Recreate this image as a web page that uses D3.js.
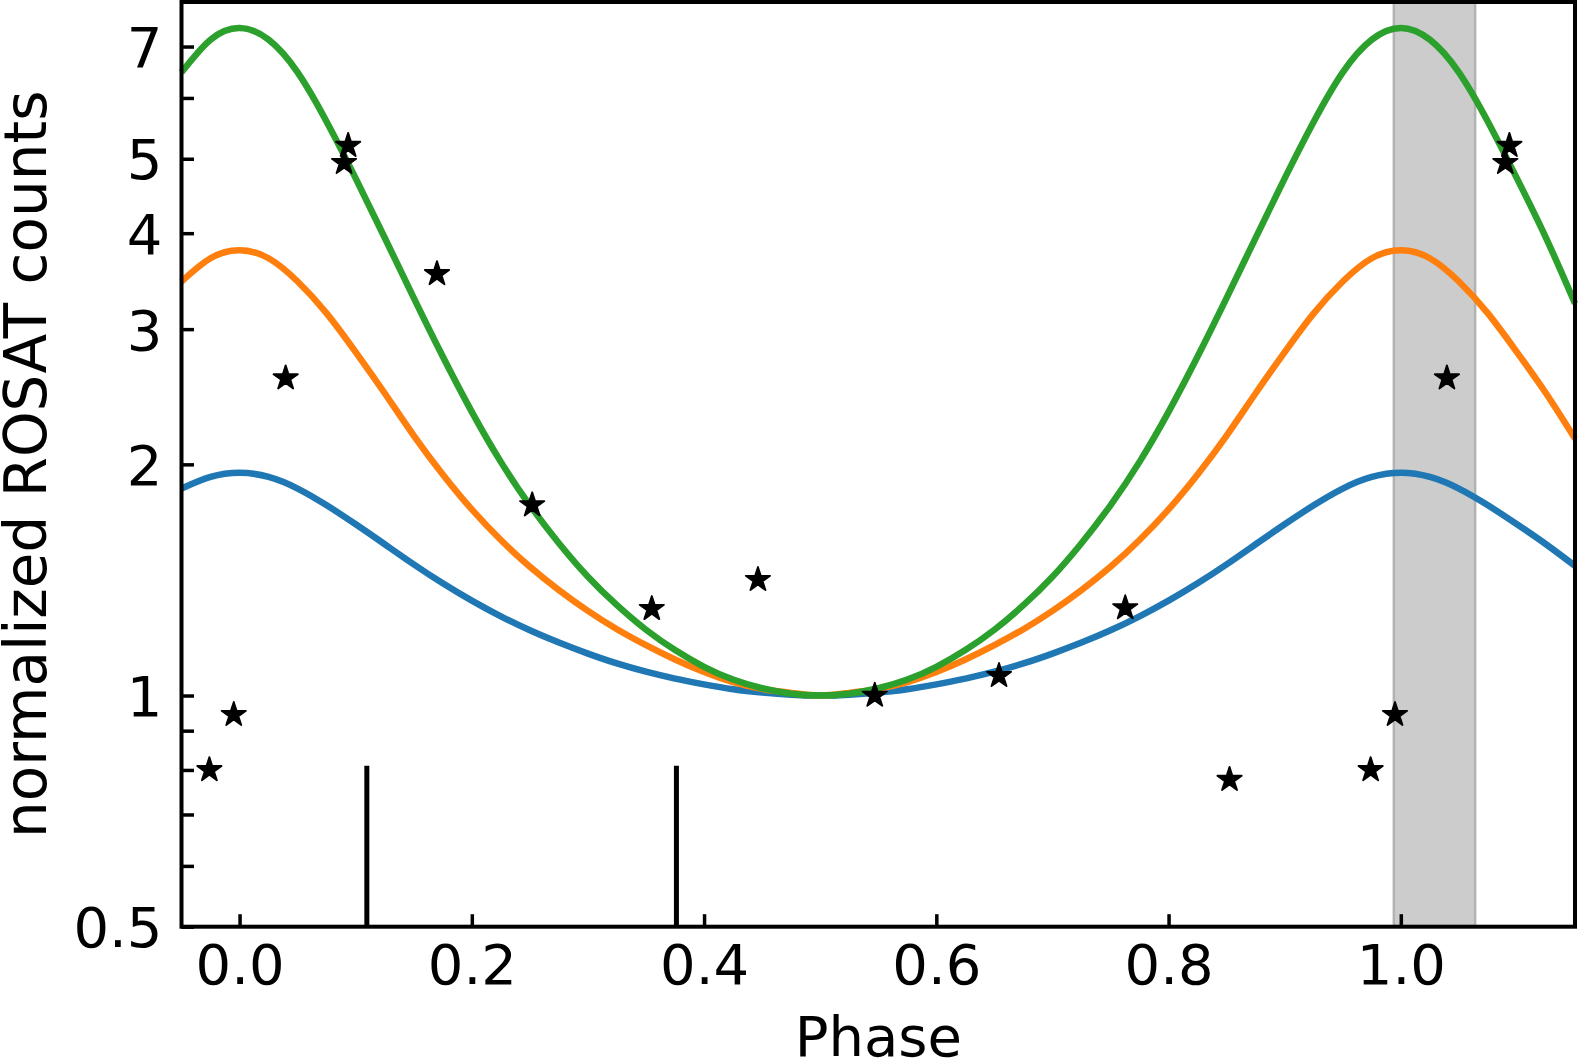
<!DOCTYPE html>
<html>
<head>
<meta charset="utf-8">
<script src="https://cdn.jsdelivr.net/npm/d3@7"></script>
<style>
  html, body { margin: 0; padding: 0; background: #fff; }
  svg { display: block; font-family: "DejaVu Sans", sans-serif; }
</style>
</head>
<body>
<svg id="chart" width="1578" height="1060"></svg>
<script>
// model curves, every 0.025 in phase
const phaseGrid = [-0.05, -0.025, 0, 0.025, 0.05, 0.075, 0.1, 0.125, 0.15, 0.175, 0.2, 0.225,
    0.25, 0.275, 0.3, 0.325, 0.35, 0.375, 0.4, 0.425, 0.45, 0.475, 0.5, 0.525, 0.55, 0.575,
    0.6, 0.625, 0.65, 0.675, 0.7, 0.725, 0.75, 0.775, 0.8, 0.825, 0.85, 0.875, 0.9, 0.925,
    0.95, 0.975, 1, 1.025, 1.05, 1.075, 1.1, 1.125, 1.15]
const blueModel = [1.86, 1.926, 1.95, 1.926, 1.86, 1.769, 1.671, 1.574, 1.482, 1.40, 1.329, 1.268,
    1.216, 1.172, 1.134, 1.101, 1.074, 1.052, 1.034, 1.019, 1.009, 1.0025, 1.0, 1.0025, 1.009, 1.019,
    1.034, 1.052, 1.074, 1.101, 1.134, 1.172, 1.216, 1.268, 1.329, 1.40, 1.482, 1.574, 1.671, 1.769,
    1.86, 1.926, 1.95, 1.926, 1.86, 1.769, 1.671, 1.574, 1.475]
const orangeModel = [3.46, 3.71, 3.80, 3.71, 3.46, 3.145, 2.80, 2.475, 2.18, 1.94, 1.747, 1.594,
    1.471, 1.372, 1.289, 1.220, 1.163, 1.114, 1.073, 1.041, 1.020, 1.008, 1.0, 1.008, 1.020, 1.041,
    1.073, 1.114, 1.163, 1.220, 1.289, 1.372, 1.471, 1.594, 1.747, 1.94, 2.18, 2.475, 2.80, 3.145,
    3.46, 3.71, 3.80, 3.71, 3.46, 3.145, 2.80, 2.475, 2.16]
const greenModel = [6.479, 7.146, 7.40, 7.146, 6.479, 5.587, 4.714, 3.945, 3.295, 2.763, 2.341, 2.015,
    1.769, 1.579, 1.428, 1.311, 1.218, 1.146, 1.090, 1.049, 1.022, 1.0055, 1.0, 1.0055, 1.022, 1.049,
    1.090, 1.146, 1.218, 1.311, 1.428, 1.579, 1.769, 2.015, 2.341, 2.763, 3.295, 3.945, 4.714, 5.587,
    6.479, 7.146, 7.40, 7.146, 6.479, 5.587, 4.714, 3.945, 3.24]

// ROSAT points (phase in 0..1), repeated one cycle either side where visible
const obsPhase = [0.0397, 0.090, 0.0935, 0.170, 0.252, 0.355, 0.4464, 0.547, 0.654, 0.7627, 0.8525, 0.974, 0.995]
const obsCounts = [2.59, 4.94, 5.20, 3.54, 1.77, 1.297, 1.415, 1.00, 1.061, 1.30, 0.777, 0.80, 0.944]

const markerPhase = [0.1096, 0.3762]
const markerTop = 0.81
const bandPhase = [0.994, 1.064]

const xTicks = [0, 0.2, 0.4, 0.6, 0.8, 1.0]
const yTicks = [0.5, 1, 2, 3, 4, 5, 7]
const yMinor = [0.6, 0.7, 0.8, 0.9, 6]

const colors = {blue: "#1f77b4", orange: "#ff7f0e", green: "#2ca02c"}

const plotLeft = 181.5, plotRight = 1575, plotTop = 2, plotBottom = 926.7
const fontSize = 56

let svg = d3.select("#chart")

let x = d3.scaleLinear().domain([-0.05, 1.15]).range([plotLeft, plotRight])
let y = d3.scaleLog().domain([0.5, 8]).range([plotBottom, plotTop])

// shaded phase band
let band = svg.append("g").classed("band", true)
band.append("rect")
    .attr("x", x(bandPhase[0]))
    .attr("y", plotTop)
    .attr("width", x(bandPhase[1]) - x(bandPhase[0]))
    .attr("height", plotBottom - plotTop)
    .attr("fill", "#cccccc")
band.selectAll("line")
    .data(bandPhase)
    .join("line")
        .attr("x1", d => x(d))
        .attr("x2", d => x(d))
        .attr("y1", plotTop)
        .attr("y2", plotBottom)
        .attr("stroke", "#b2b2b2")
        .attr("stroke-width", 2.5)

// model curves
let series = [
    {name: "blue", values: blueModel},
    {name: "orange", values: orangeModel},
    {name: "green", values: greenModel},
]
let line = d3.line()
    .x((d, i) => x(phaseGrid[i]))
    .y(d => y(d))
    .curve(d3.curveNatural)
svg.append("g")
    .classed("curves", true)
    .selectAll("path")
    .data(series)
    .join("path")
        .attr("fill", "none")
        .attr("stroke", d => colors[d.name])
        .attr("stroke-width", 6.5)
        .attr("stroke-linejoin", "round")
        .attr("d", d => line(d.values))

// vertical phase markers
svg.append("g")
    .classed("markers", true)
    .selectAll("line")
    .data(markerPhase)
    .join("line")
        .attr("x1", d => x(d))
        .attr("x2", d => x(d))
        .attr("y1", y(0.5))
        .attr("y2", y(markerTop))
        .attr("stroke", "#000")
        .attr("stroke-width", 5)

// observed points, wrapped into the visible range
let points = []
for (let [i, p] of obsPhase.entries()) {
    for (let shift of [-1, 0, 1]) {
        let ph = p + shift
        if (ph >= -0.05 && ph <= 1.15) points.push({phase: ph, counts: obsCounts[i]})
    }
}

function starPath(r) {
    let inner = r * 0.381966
    let parts = []
    for (let k = 0; k < 10; k++) {
        let rad = k % 2 === 0 ? r : inner
        let a = -Math.PI / 2 + k * Math.PI / 5
        parts.push(`${k === 0 ? "M" : "L"} ${rad * Math.cos(a)},${rad * Math.sin(a)}`)
    }
    return parts.join(" ") + " Z"
}

svg.append("g")
    .classed("points", true)
    .selectAll("path")
    .data(points)
    .join("path")
        .attr("transform", d => `translate(${x(d.phase)},${y(d.counts)})`)
        .attr("d", starPath(12.8))
        .attr("fill", "#000")
        .attr("stroke", "#000")
        .attr("stroke-width", 1.8)
        .attr("stroke-linejoin", "round")

// axes
let xAxis = svg.append("g")
    .attr("transform", `translate(0,${plotBottom})`)
    .call(d3.axisBottom(x)
        .tickValues(xTicks)
        .tickFormat(d3.format(".1f"))
        .tickSizeInner(-12.5)
        .tickSizeOuter(0)
        .tickPadding(18))
let yAxis = svg.append("g")
    .attr("transform", `translate(${plotLeft},0)`)
    .call(d3.axisLeft(y)
        .tickValues(yTicks)
        .tickFormat(d3.format("~g"))
        .tickSizeInner(-12.5)
        .tickSizeOuter(0)
        .tickPadding(19))
svg.append("g")
    .attr("transform", `translate(${plotLeft},0)`)
    .call(d3.axisLeft(y)
        .tickValues(yMinor)
        .tickFormat("")
        .tickSizeInner(-12.5)
        .tickSizeOuter(0))
    .call(g => g.select(".domain").remove())

for (let g of [xAxis, yAxis]) {
    g.select(".domain").remove()
}
svg.selectAll(".tick line")
    .attr("stroke", "#000")
    .attr("stroke-width", 3.5)
svg.selectAll(".tick text")
    .attr("fill", "#000")
    .style("font-size", fontSize + "px")
    .style("font-family", "DejaVu Sans")
yAxis.selectAll(".tick text").attr("dy", "0.36em")

// frame
svg.append("rect")
    .attr("x", plotLeft)
    .attr("y", plotTop)
    .attr("width", plotRight - plotLeft)
    .attr("height", plotBottom - plotTop)
    .attr("fill", "none")
    .attr("stroke", "#000")
    .attr("stroke-width", 4)

// axis labels
svg.append("text")
    .attr("x", (plotLeft + plotRight) / 2)
    .attr("y", 1056)
    .attr("text-anchor", "middle")
    .style("font-size", fontSize + "px")
    .text("Phase")
svg.append("text")
    .attr("transform", `translate(46,${(plotTop + plotBottom) / 2}) rotate(-90)`)
    .attr("text-anchor", "middle")
    .style("font-size", "58px")
    .text("normalized ROSAT counts")
</script>
</body>
</html>
